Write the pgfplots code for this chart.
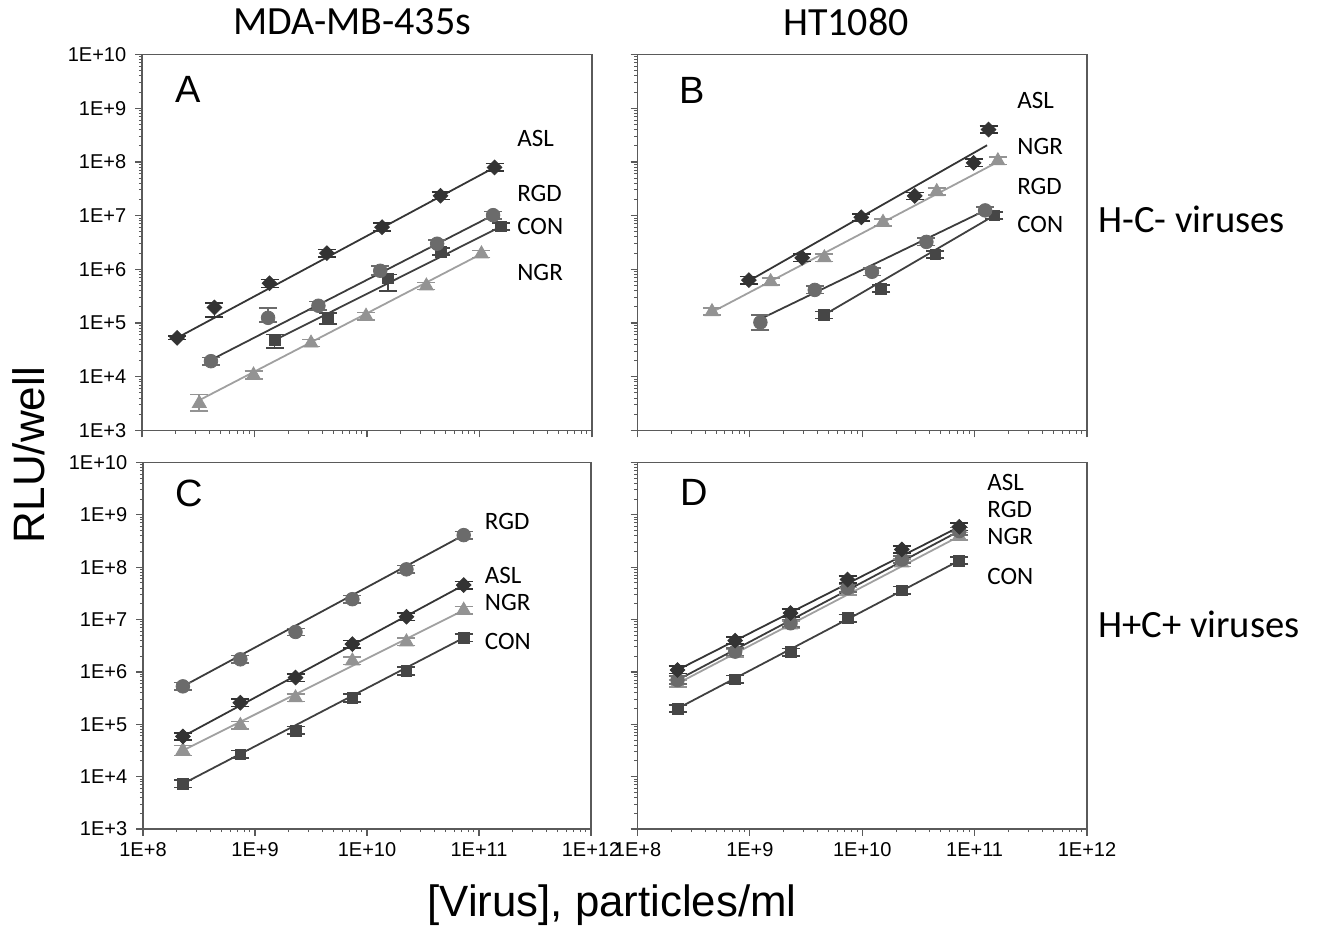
\documentclass[border=0pt]{standalone}
\usepackage{pgfplots}
\usepackage{pgfplotstable}
\pgfplotsset{compat=1.18}
\usepackage{fontspec}
\setmainfont{Liberation Sans}
\newfontfamily\calfont{Carlito}

\definecolor{cASL}{HTML}{333333}
\definecolor{cRGD}{HTML}{6B6B6B}
\definecolor{cCON}{HTML}{464646}
\definecolor{cNGR}{HTML}{939393}
\definecolor{lASL}{HTML}{353535}
\definecolor{lRGD}{HTML}{3C3C3C}
\definecolor{lCON}{HTML}{404040}
\definecolor{lNGR}{HTML}{A0A0A0}
\definecolor{frm}{HTML}{5A5A5A}

% ---------- Panel A ----------
\pgfplotstableread{
x y ep em
2.05e8 5.3e4 4e3 4e3
4.4e8 1.95e5 4.4e4 6.6e4
1.36e9 5.5e5 1e5 9e4
4.4e9 2.0e6 3.5e5 3e5
1.36e10 6.1e6 1.1e6 9e5
4.5e10 2.35e7 4e6 3.5e6
1.36e11 7.9e7 1.4e7 1.2e7
}\Aasl
\pgfplotstableread{
x y ep em
4.1e8 1.95e4 3.5e3 3e3
1.32e9 1.25e5 6.8e4 2e4
3.7e9 2.1e5 4e4 3.5e4
1.31e10 9.4e5 2e5 1.5e5
4.2e10 3.0e6 5e5 4.5e5
1.32e11 1.02e7 1.8e6 1.5e6
}\Argd
\pgfplotstableread{
x y ep em
1.51e9 4.8e4 1.3e4 1.4e4
4.5e9 1.25e5 3e4 3e4
1.54e10 6.8e5 1.2e5 2.8e5
4.5e10 2.14e6 3.5e5 3e5
1.56e11 6.3e6 1e6 9e5
}\Acon
\pgfplotstableread{
x y ep em
3.23e8 3.2e3 1.5e3 0.9e3
9.8e8 1.08e4 2e3 1.8e3
3.18e9 4.24e4 7e3 6e3
9.8e9 1.34e5 2.2e4 2e4
3.37e10 4.9e5 8e4 7e4
1.04e11 1.94e6 3.2e5 2.8e5
}\Angr
% ---------- Panel B ----------
\pgfplotstableread{
x y ep em
9.8e8 6.3e5 1e5 9e4
2.92e9 1.64e6 2.7e5 2.3e5
9.8e9 9.3e6 1.5e6 1.3e6
2.93e10 2.33e7 3.8e6 3.3e6
9.8e10 9.6e7 1.6e7 1.4e7
1.33e11 4.0e8 6.5e7 5.5e7
}\Basl
\pgfplotstableread{
x y ep em
4.6e8 1.63e5 2.7e4 2.3e4
1.53e9 5.9e5 9.5e4 8.5e4
4.6e9 1.64e6 2.7e5 2.3e5
1.53e10 7.5e6 1.2e6 1.1e6
4.6e10 2.8e7 4.5e6 4e6
1.61e11 1.05e8 1.7e7 1.5e7
}\Bngr
\pgfplotstableread{
x y ep em
1.24e9 1.03e5 3.8e4 2.8e4
3.78e9 4.14e5 7e4 6e4
1.22e10 9.0e5 1.5e5 1.3e5
3.72e10 3.24e6 5.5e5 4.5e5
1.24e11 1.25e7 2e6 1.8e6
}\Brgd
\pgfplotstableread{
x y ep em
4.55e9 1.41e5 2.3e4 2e4
1.47e10 4.39e5 7e4 6e4
4.47e10 1.89e6 3e5 2.7e5
1.5e11 1.01e7 1.6e6 1.4e6
}\Bcon
% ---------- Panel C ----------
\pgfplotstableread{
x y ep em
2.27e8 5.3e5 9.5e4 8e4
7.4e8 1.74e6 3.1e5 2.6e5
2.3e9 5.8e6 1e6 8.7e5
7.4e9 2.45e7 4.4e6 3.7e6
2.25e10 9.1e7 1.6e7 1.4e7
7.3e10 4.1e8 7.4e7 6.2e7
}\Crgd
\pgfplotstableread{
x y ep em
2.27e8 5.85e4 1.05e4 8.8e3
7.4e8 2.58e5 4.6e4 3.9e4
2.3e9 7.8e5 1.4e5 1.2e5
7.4e9 3.4e6 6.1e5 5.1e5
2.25e10 1.13e7 2e6 1.7e6
7.3e10 4.55e7 8.2e6 6.8e6
}\Casl
\pgfplotstableread{
x y ep em
2.27e8 3.15e4 8e3 6e3
7.4e8 9.5e4 1.7e4 1.4e4
2.3e9 3.2e5 5.8e4 4.8e4
7.4e9 1.62e6 2.9e5 2.4e5
2.25e10 3.75e6 6.8e5 5.6e5
7.3e10 1.51e7 2.7e6 2.3e6
}\Cngr
\pgfplotstableread{
x y ep em
2.27e8 7.3e3 1.3e3 1.1e3
7.4e8 2.65e4 4.8e3 4e3
2.3e9 7.6e4 1.4e4 1.1e4
7.4e9 3.17e5 5.7e4 4.8e4
2.25e10 1.04e6 1.9e5 1.6e5
7.3e10 4.47e6 8e5 6.7e5
}\Ccon
% ---------- Panel D ----------
\pgfplotstableread{
x y ep em
2.27e8 1.09e6 2e5 1.6e5
7.4e8 3.96e6 7.1e5 5.9e5
2.3e9 1.33e7 2.4e6 2e6
7.4e9 5.8e7 1e7 8.7e6
2.25e10 2.18e8 3.9e7 3.3e7
7.3e10 5.9e8 1.1e8 8.9e7
}\Dasl
\pgfplotstableread{
x y ep em
2.27e8 7.0e5 1.3e5 1.05e5
7.4e8 2.44e6 4.4e5 3.7e5
2.3e9 8.5e6 1.5e6 1.3e6
7.4e9 4.0e7 7.2e6 6e6
2.25e10 1.4e8 2.5e7 2.1e7
7.3e10 4.9e8 8.8e7 7.4e7
}\Drgd
\pgfplotstableread{
x y ep em
2.27e8 6.0e5 1.1e5 9e4
7.4e8 2.27e6 4.1e5 3.4e5
2.3e9 7.9e6 1.4e6 1.2e6
7.4e9 3.45e7 6.2e6 5.2e6
2.25e10 1.21e8 2.2e7 1.8e7
7.3e10 3.9e8 7e7 5.9e7
}\Dngr
\pgfplotstableread{
x y ep em
2.27e8 2.0e5 3.6e4 3e4
7.4e8 7.2e5 1.3e5 1.1e5
2.3e9 2.37e6 4.3e5 3.6e5
7.4e9 1.06e7 1.9e6 1.6e6
2.25e10 3.6e7 6.5e6 5.4e6
7.3e10 1.34e8 2.4e7 2e7
}\Dcon

\pgfplotsset{
  every axis/.append style={
    scale only axis,
    xmin=1e8, xmax=1e12, ymin=1e3, ymax=1e10,
    xtick={1e8,1e9,1e10,1e11,1e12},
    ytick={1e3,1e4,1e5,1e6,1e7,1e8,1e9,1e10},
    minor xtick={2e8,3e8,4e8,5e8,6e8,7e8,8e8,9e8,2e9,3e9,4e9,5e9,6e9,7e9,8e9,9e9,2e10,3e10,4e10,5e10,6e10,7e10,8e10,9e10,2e11,3e11,4e11,5e11,6e11,7e11,8e11,9e11},
    minor ytick={2e3,3e3,4e3,5e3,6e3,7e3,8e3,9e3,2e4,3e4,4e4,5e4,6e4,7e4,8e4,9e4,2e5,3e5,4e5,5e5,6e5,7e5,8e5,9e5,2e6,3e6,4e6,5e6,6e6,7e6,8e6,9e6,2e7,3e7,4e7,5e7,6e7,7e7,8e7,9e7,2e8,3e8,4e8,5e8,6e8,7e8,8e8,9e8,2e9,3e9,4e9,5e9,6e9,7e9,8e9,9e9},
    tick pos=left, tick align=outside,
    major tick length=3.5pt, minor tick length=1.6pt,
    axis line style={draw=frm, line width=0.9pt},
    major tick style={draw=frm, line width=0.6pt},
    minor tick style={draw=frm, line width=0.5pt},
    tick label style={font=\fontsize{10}{12}\selectfont, text=black},
    yticklabel style={inner sep=4.2pt},
    xticklabel style={inner sep=3pt},
    clip=false,
  },
}
\pgfplotsset{
  mASL/.style={only marks, mark=square*, mark size=2.6pt, mark options={rotate=45, fill=cASL, draw=cASL},
    error bars/y dir=both, error bars/y explicit,
    error bars/error bar style={line width=0.8pt, color=cASL},
    error bars/error mark options={rotate=90, color=cASL, mark size=4.5pt, line width=0.8pt}},
  mRGD/.style={only marks, mark=*, mark size=3.4pt, mark options={fill=cRGD, draw=cRGD},
    error bars/y dir=both, error bars/y explicit,
    error bars/error bar style={line width=0.8pt, color=cRGD},
    error bars/error mark options={rotate=90, color=cRGD, mark size=4.5pt, line width=0.8pt}},
  mCON/.style={only marks, mark=square*, mark size=2.7pt, mark options={fill=cCON, draw=cCON},
    error bars/y dir=both, error bars/y explicit,
    error bars/error bar style={line width=0.8pt, color=cCON},
    error bars/error mark options={rotate=90, color=cCON, mark size=4.5pt, line width=0.8pt}},
  mNGR/.style={only marks, mark=triangle*, mark size=4.0pt, mark options={fill=cNGR, draw=cNGR},
    error bars/y dir=both, error bars/y explicit,
    error bars/error bar style={line width=0.8pt, color=cNGR},
    error bars/error mark options={rotate=90, color=cNGR, mark size=4.5pt, line width=0.8pt}},
}
\newcommand{\lab}{\calfont\fontsize{12.5}{14}\selectfont}
\newcommand{\panfont}{\fontsize{19}{21}\selectfont}

\begin{document}
\begin{tikzpicture}
\useasboundingbox (0,0) rectangle (662pt,465pt);

% ===== A =====
\begin{loglogaxis}[at={(71pt,249.75pt)}, anchor=south west, width=225pt, height=188pt,
  xticklabels={}, yticklabels={1E+3,1E+4,1E+5,1E+6,1E+7,1E+8,1E+9,1E+10}]
\addplot[no marks, line width=0.9pt, color=lASL] coordinates {(2.05e8,5.3e4) (1.36e11,7.9e7)};
\addplot[no marks, line width=0.9pt, color=lRGD] coordinates {(4.1e8,2.06e4) (1.32e11,1.02e7)};
\addplot[no marks, line width=0.9pt, color=lCON] coordinates {(1.51e9,4.8e4) (1.56e11,6.3e6)};
\addplot[no marks, line width=0.9pt, color=lNGR] coordinates {(3.23e8,3.66e3) (1.04e11,1.94e6)};
\addplot[mNGR] table[x=x, y=y, y error plus=ep, y error minus=em] {\Angr};
\addplot[mCON] table[x=x, y=y, y error plus=ep, y error minus=em] {\Acon};
\addplot[mRGD] table[x=x, y=y, y error plus=ep, y error minus=em] {\Argd};
\addplot[mASL] table[x=x, y=y, y error plus=ep, y error minus=em] {\Aasl};
\node[anchor=west, inner sep=0, font=\panfont] at (axis cs:1.98e8,2.26e9) {A};
\node[anchor=west, inner sep=0, font=\lab] at (axis cs:2.15e11,2.72e8) {ASL};
\node[anchor=west, inner sep=0, font=\lab] at (axis cs:2.15e11,2.6e7) {RGD};
\node[anchor=west, inner sep=0, font=\lab] at (axis cs:2.15e11,6.3e6) {CON};
\node[anchor=west, inner sep=0, font=\lab] at (axis cs:2.15e11,8.75e5) {NGR};
\end{loglogaxis}

% ===== B =====
\begin{loglogaxis}[at={(318.75pt,249.75pt)}, anchor=south west, width=224.75pt, height=188pt,
  xticklabels={}, yticklabels={}]
\addplot[no marks, line width=0.9pt, color=lASL] coordinates {(9.8e8,6.1e5) (1.29e11,2.04e8)};
\addplot[no marks, line width=0.9pt, color=lNGR] coordinates {(4.6e8,1.6e5) (1.61e11,1.0e8)};
\addplot[no marks, line width=0.9pt, color=lRGD] coordinates {(1.24e9,1.19e5) (1.24e11,1.25e7)};
\addplot[no marks, line width=0.9pt, color=lCON] coordinates {(4.55e9,1.41e5) (1.5e11,1.01e7)};
\addplot[mNGR] table[x=x, y=y, y error plus=ep, y error minus=em] {\Bngr};
\addplot[mCON] table[x=x, y=y, y error plus=ep, y error minus=em] {\Bcon};
\addplot[mRGD] table[x=x, y=y, y error plus=ep, y error minus=em] {\Brgd};
\addplot[mASL] table[x=x, y=y, y error plus=ep, y error minus=em] {\Basl};
\node[anchor=west, inner sep=0, font=\panfont] at (axis cs:2.34e8,2.12e9) {B};
\node[anchor=west, inner sep=0, font=\lab] at (axis cs:2.38e11,1.38e9) {ASL};
\node[anchor=west, inner sep=0, font=\lab] at (axis cs:2.38e11,1.9e8) {NGR};
\node[anchor=west, inner sep=0, font=\lab] at (axis cs:2.38e11,3.47e7) {RGD};
\node[anchor=west, inner sep=0, font=\lab] at (axis cs:2.38e11,6.8e6) {CON};
\end{loglogaxis}

% ===== C =====
\begin{loglogaxis}[at={(71.5pt,50.5pt)}, anchor=south west, width=224pt, height=183.25pt,
  xticklabels={1E+8,1E+9,1E+10,1E+11,1E+12}, yticklabels={1E+3,1E+4,1E+5,1E+6,1E+7,1E+8,1E+9,1E+10}]
\addplot[no marks, line width=0.9pt, color=lRGD] coordinates {(2.27e8,5.3e5) (7.3e10,4.1e8)};
\addplot[no marks, line width=0.9pt, color=lASL] coordinates {(2.27e8,5.85e4) (7.3e10,4.55e7)};
\addplot[no marks, line width=0.9pt, color=lNGR] coordinates {(2.27e8,3.15e4) (7.3e10,1.51e7)};
\addplot[no marks, line width=0.9pt, color=lCON] coordinates {(2.27e8,7.3e3) (7.3e10,4.47e6)};
\addplot[mNGR] table[x=x, y=y, y error plus=ep, y error minus=em] {\Cngr};
\addplot[mCON] table[x=x, y=y, y error plus=ep, y error minus=em] {\Ccon};
\addplot[mRGD] table[x=x, y=y, y error plus=ep, y error minus=em] {\Crgd};
\addplot[mASL] table[x=x, y=y, y error plus=ep, y error minus=em] {\Casl};
\node[anchor=west, inner sep=0, font=\panfont] at (axis cs:1.95e8,2.57e9) {C};
\node[anchor=west, inner sep=0, font=\lab] at (axis cs:1.12e11,7.4e8) {RGD};
\node[anchor=west, inner sep=0, font=\lab] at (axis cs:1.12e11,6.8e7) {ASL};
\node[anchor=west, inner sep=0, font=\lab] at (axis cs:1.12e11,2.1e7) {NGR};
\node[anchor=west, inner sep=0, font=\lab] at (axis cs:1.12e11,3.74e6) {CON};
\end{loglogaxis}

% ===== D =====
\begin{loglogaxis}[at={(318.75pt,50.5pt)}, anchor=south west, width=224.75pt, height=183.25pt,
  xticklabels={1E+8,1E+9,1E+10,1E+11,1E+12}, yticklabels={}]
\addplot[no marks, line width=0.9pt, color=lASL] coordinates {(2.27e8,1.09e6) (7.3e10,5.9e8)};
\addplot[no marks, line width=0.9pt, color=lRGD] coordinates {(2.27e8,7.0e5) (7.3e10,4.9e8)};
\addplot[no marks, line width=0.9pt, color=lNGR] coordinates {(2.27e8,6.0e5) (7.3e10,3.9e8)};
\addplot[no marks, line width=0.9pt, color=lCON] coordinates {(2.27e8,2.0e5) (7.3e10,1.34e8)};
\addplot[mNGR] table[x=x, y=y, y error plus=ep, y error minus=em] {\Dngr};
\addplot[mCON] table[x=x, y=y, y error plus=ep, y error minus=em] {\Dcon};
\addplot[mRGD] table[x=x, y=y, y error plus=ep, y error minus=em] {\Drgd};
\addplot[mASL] table[x=x, y=y, y error plus=ep, y error minus=em] {\Dasl};
\node[anchor=west, inner sep=0, font=\panfont] at (axis cs:2.38e8,2.66e9) {D};
\node[anchor=west, inner sep=0, font=\lab] at (axis cs:1.29e11,4.13e9) {ASL};
\node[anchor=west, inner sep=0, font=\lab] at (axis cs:1.29e11,1.27e9) {RGD};
\node[anchor=west, inner sep=0, font=\lab] at (axis cs:1.29e11,3.8e8) {NGR};
\node[anchor=west, inner sep=0, font=\lab] at (axis cs:1.29e11,6.7e7) {CON};
\end{loglogaxis}

% ===== outer texts =====
\node[font=\calfont\fontsize{20}{22}\selectfont, inner sep=0] at (176pt,454pt) {MDA-MB-435s};
\node[font=\calfont\fontsize{20}{22}\selectfont, inner sep=0] at (423pt,454pt) {HT1080};
\node[font=\calfont\fontsize{19.3}{21}\selectfont, anchor=base west, inner sep=0] at (549pt,348.5pt) {H-C- viruses};
\node[font=\calfont\fontsize{19.3}{21}\selectfont, anchor=base west, inner sep=0] at (549pt,146pt) {H+C+ viruses};
\node[font=\fontsize{22}{24}\selectfont, rotate=90, inner sep=0] at (14.5pt,237.5pt) {RLU/well};
\node[font=\fontsize{21.9}{24}\selectfont, anchor=base, inner sep=0] at (306pt,6.5pt) {[Virus], particles/ml};
\end{tikzpicture}
\end{document}
